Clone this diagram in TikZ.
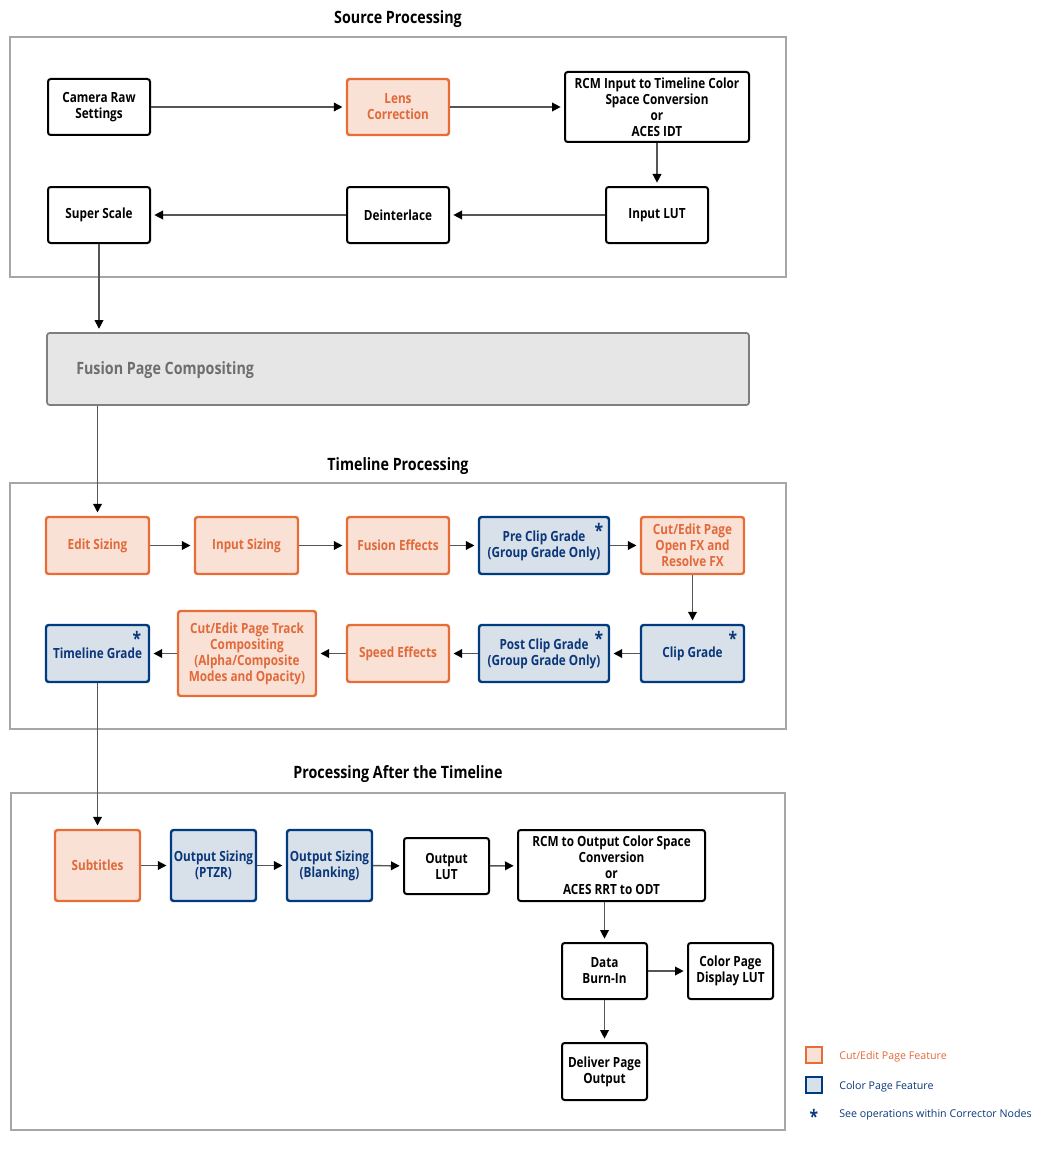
\documentclass[tikz,border=0pt]{standalone}
\usepackage{fontspec}
\setmainfont{Open Sans}[FakeStretch=0.84]
\newfontfamily\legfont{Open Sans}
\usetikzlibrary{arrows.meta}
\definecolor{orgB}{HTML}{E86C36}
\definecolor{orgF}{HTML}{F9E1D6}
\definecolor{orgT}{HTML}{E2693A}
\definecolor{bluB}{HTML}{003A7F}
\definecolor{bluF}{HTML}{D8E0EA}
\definecolor{bluT}{HTML}{0A377A}
\definecolor{frameC}{HTML}{A6A6A6}
\definecolor{fusF}{HTML}{E6E6E6}
\definecolor{fusB}{HTML}{7F7F7F}
\definecolor{fusT}{HTML}{6E6E6E}
\definecolor{lineC}{HTML}{555555}
\tikzset{
 box/.style={draw, rounded corners=2pt, align=center, inner sep=0pt,
   font=\bfseries\fontsize{10.5}{12}\selectfont},
 plainbox/.style={box, draw=black, line width=1.5pt, fill=white, text=black},
 orgbox/.style={box, draw=orgB, line width=1.8pt, fill=orgF, text=orgT},
 blubox/.style={box, draw=bluB, line width=1.8pt, fill=bluF, text=bluT},
 sz/.style 2 args={minimum width=#1*0.75pt, minimum height=#2*0.75pt},
 arr/.style={draw=lineC, line width=1.1pt, shorten >=2.5pt,
   -{Triangle[length=6.5pt,width=6.5pt,color=black]}},
 frame/.style={draw=frameC, line width=0.9pt},
 title/.style={font=\bfseries\fontsize{12.75}{14}\selectfont},
 star/.style={text=bluT, inner sep=0pt, font=\bfseries\fontsize{14}{14}\selectfont, anchor=center},
 legtext/.style={font=\legfont\fontsize{8}{10}\selectfont, anchor=west, inner sep=0pt},
}
\begin{document}
\begin{tikzpicture}[x=0.75pt, y=-0.75pt]
\useasboundingbox (0,0) rectangle (1044,1170);
% frames
\draw[frame] (10,37) rectangle (786,277);
\draw[frame] (10,483) rectangle (786,729);
\draw[frame] (11,793) rectangle (785,1130);
% titles
\node[title] (t1) at (398,19.5) {Source Processing};
\node[title] (t2) at (398,466.5) {Timeline Processing};
\node[title] (t3) at (398,774.5) {Processing After the Timeline};
% source processing
\node[plainbox, sz={102}{56}] (cam) at (99,107) {Camera Raw\\Settings};
\node[orgbox, sz={102}{56}] (lens) at (398,107) {Lens\\Correction};
\node[plainbox, sz={184}{70}] (rcmi) at (657,107) {RCM Input to Timeline Color\\Space Conversion\\or\\ACES IDT};
\node[plainbox, sz={102}{56}] (ilut) at (657,215) {Input LUT};
\node[plainbox, sz={102}{56}] (deint) at (398,215) {Deinterlace};
\node[plainbox, sz={102}{56}] (ss) at (99,215) {Super Scale};
\draw[arr] (cam) -- (lens);
\draw[arr] (lens) -- (rcmi);
\draw[arr] (rcmi.south -| ilut.north) -- (ilut.north);
\draw[arr] (ilut) -- (deint);
\draw[arr] (deint) -- (ss);
% fusion
\node[draw=fusB, fill=fusF, line width=1.3pt, rounded corners=2pt, sz={702}{72}, inner sep=0pt] (fus) at (398,369) {};
\node[anchor=west, text=fusT, font=\bfseries\fontsize{12.75}{14}\selectfont, inner sep=0pt] (fust) at (76,370) {Fusion Page Compositing};
\draw[arr] (ss.south) -- (ss.south |- fus.north);
% timeline processing
\node[orgbox, sz={103}{57}] (edit) at (97.5,545.5) {Edit Sizing};
\node[orgbox, sz={103}{57}] (insz) at (246.5,545.5) {Input Sizing};
\node[orgbox, sz={102}{57}] (fxe) at (398,545.5) {Fusion Effects};
\node[blubox, sz={130}{57}] (pre) at (544,545.5) {Pre Clip Grade\\(Group Grade Only)};
\node[orgbox, sz={103}{57}] (ofx) at (692.5,545.5) {Cut/Edit Page\\Open FX and\\Resolve FX};
\node[blubox, sz={103}{57}] (clip) at (692.5,653.5) {Clip Grade};
\node[blubox, sz={130}{57}] (post) at (544,653.5) {Post Clip Grade\\(Group Grade Only)};
\node[orgbox, sz={102}{57}] (speed) at (398,653.5) {Speed Effects};
\node[orgbox, sz={138}{85}] (track) at (247,653.5) {Cut/Edit Page Track\\Compositing\\(Alpha/Composite\\Modes and Opacity)};
\node[blubox, sz={103}{57}] (tg) at (97.5,653.5) {Timeline Grade};
\node[star] (s1) at (599,530) {*};
\node[star] (s2) at (733,638) {*};
\node[star] (s3) at (599,638) {*};
\node[star] (s4) at (137,638) {*};
\draw[arr] (fus.south -| edit.north) -- (edit.north);
\draw[arr] (edit) -- (insz);
\draw[arr] (insz) -- (fxe);
\draw[arr] (fxe) -- (pre);
\draw[arr] (pre) -- (ofx);
\draw[arr] (ofx) -- (clip);
\draw[arr] (clip) -- (post);
\draw[arr] (post) -- (speed);
\draw[arr] (speed) -- (track);
\draw[arr] (track) -- (tg);
% after timeline
\node[orgbox, sz={85}{71}] (sub) at (97.5,865.5) {Subtitles};
\node[blubox, sz={85}{71}] (ptzr) at (213.5,865.5) {Output Sizing\\(PTZR)};
\node[blubox, sz={85}{71}] (blank) at (329.5,865.5) {Output Sizing\\(Blanking)};
\node[plainbox, sz={85}{56}] (olut) at (446.5,866) {Output\\LUT};
\node[plainbox, sz={187}{71}] (rcmo) at (611.5,865.5) {RCM to Output Color Space\\Conversion\\or\\ACES RRT to ODT};
\node[plainbox, sz={85}{56}] (data) at (604.5,971) {Data\\Burn-In};
\node[plainbox, sz={85}{56}] (cpd) at (730.5,971) {Color Page\\Display LUT};
\node[plainbox, sz={85}{57}] (dlv) at (604.5,1071.5) {Deliver Page\\Output};
\draw[arr] (tg) -- (sub);
\draw[arr] (sub) -- (ptzr);
\draw[arr] (ptzr) -- (blank);
\draw[arr] (blank) -- (olut);
\draw[arr] (olut) -- (rcmo);
\draw[arr] (rcmo.south -| data.north) -- (data.north);
\draw[arr] (data) -- (cpd);
\draw[arr] (data) -- (dlv);
% legend
\node[draw=orgB, fill=orgF, line width=0.8pt, sz={16}{16}, inner sep=0pt] (lg1) at (814,1055) {};
\node[draw=bluB, fill=bluF, line width=0.8pt, sz={16}{16}, inner sep=0pt] (lg2) at (814,1085) {};
\node[star] (lg3) at (814,1116) {*};
\node[legtext, text=orgT] (lt1) at (839,1056.5) {Cut/Edit Page Feature};
\node[legtext, text=bluT] (lt2) at (839,1086.5) {Color Page Feature};
\node[legtext, text=bluT] (lt3) at (839,1114.5) {See operations within Corrector Nodes};
\end{tikzpicture}
\end{document}
